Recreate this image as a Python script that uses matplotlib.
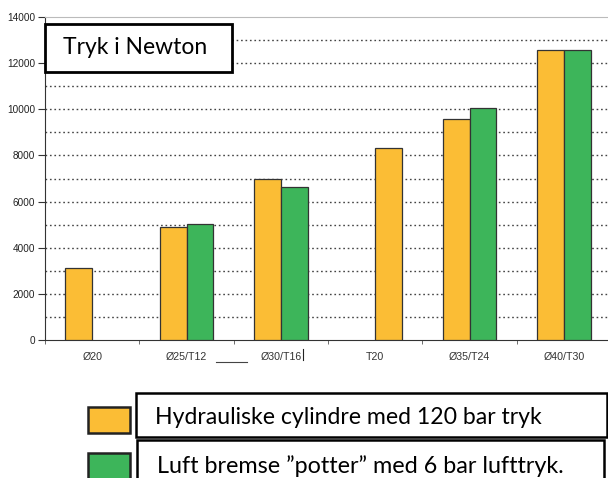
import numpy as np
import matplotlib
matplotlib.use("Agg")
import matplotlib.pyplot as plt
from matplotlib.patches import Rectangle

categories = ["Ø20", "Ø25/T12", "Ø30/T16", "T20", "Ø35/T24", "Ø40/T30"]
hydraulic = [3120, 4880, 7000, 8340, 9580, 12550]
air = [np.nan, 5020, 6650, np.nan, 10050, 12550]
# slot of the yellow bar inside each group (-1 left, +1 right)
hyd_slot = [-1, -1, -1, 1, -1, -1]

title_text = "Tryk i Newton"
legend_labels = ["Hydrauliske cylindre med 120 bar tryk",
                 "Luft bremse \u201dpotter\u201d med 6 bar lufttryk."]

yellow = "#FBBD35"
green = "#3DB55A"
W, H = 608, 478

fig = plt.figure(figsize=(W / 100, H / 100), dpi=100)
ax = fig.add_axes([45 / W, 138 / H, 566 / W, 323 / H])

x = np.arange(len(categories))
bw = 0.286
ax.bar(x + np.array(hyd_slot) * bw / 2, hydraulic, width=bw, color=yellow,
       edgecolor="#333333", linewidth=0.9, zorder=3)
ax.bar(x + bw / 2, air, width=bw, color=green,
       edgecolor="#333333", linewidth=0.9, zorder=3)

ax.set_xlim(-0.5, len(categories) - 0.5)
ax.set_ylim(0, 14000)
ax.set_yticks(np.arange(0, 14001, 2000))
for v in range(1000, 14000, 1000):
    ax.axhline(v, color="#444444", linestyle=(0, (1.2, 2.0)), linewidth=1.0, zorder=1)

ax.set_xticks(x)
ax.set_xticklabels(categories)
ax.set_xticks(np.arange(-0.5, len(categories), 1), minor=True)
ax.tick_params(axis="x", which="major", length=0, pad=9,
               labelsize=7.7, labelcolor="#333333")
ax.tick_params(axis="x", which="minor", length=3, color="#555555", direction="out")
ax.tick_params(axis="y", length=5, color="#333333", labelsize=7.2,
               labelcolor="#222222", pad=2)
for lbl in ax.get_xticklabels() + ax.get_yticklabels():
    lbl.set_fontfamily("Liberation Sans")

ax.spines["left"].set_color("#333333")
ax.spines["bottom"].set_color("#333333")
ax.spines["top"].set_color("#bbbbbb")
ax.spines["right"].set_visible(False)

# stray marks from the original screenshot
fig.add_artist(plt.Line2D([216 / W, 247 / W], [1 - 362 / H, 1 - 362 / H],
                          color="#444444", linewidth=0.8))
fig.add_artist(plt.Line2D([303 / W, 303 / W], [1 - 360 / H, 1 - 349 / H],
                          color="#222222", linewidth=0.8))

# title box
fig.add_artist(Rectangle((45 / W, 1 - 72 / H), 187 / W, 48 / H,
                         transform=fig.transFigure, facecolor="white",
                         edgecolor="black", linewidth=2, zorder=5))
fig.text(63 / W, 1 - 48 / H, title_text, fontsize=16.5, family="Lato",
         va="center", ha="left", zorder=6)

# legend
fig.add_artist(Rectangle((88 / W, 1 - 433 / H), 42 / W, 26 / H,
                         transform=fig.transFigure, facecolor=yellow,
                         edgecolor="#222222", linewidth=1.8))
fig.add_artist(Rectangle((88 / W, 1 - 480 / H), 42 / W, 27 / H,
                         transform=fig.transFigure, facecolor=green,
                         edgecolor="#222222", linewidth=1.8))
fig.add_artist(Rectangle((136 / W, 1 - 437 / H), 471 / W, 44 / H,
                         transform=fig.transFigure, facecolor="white",
                         edgecolor="black", linewidth=1.8))
fig.add_artist(Rectangle((137 / W, 1 - 485 / H), 467 / W, 45 / H,
                         transform=fig.transFigure, facecolor="white",
                         edgecolor="black", linewidth=1.8))
fig.text(155 / W, 1 - 417 / H, legend_labels[0], fontsize=16.6, family="Lato",
         va="center", ha="left")
fig.text(157 / W, 1 - 466 / H, legend_labels[1], fontsize=16.8, family="Lato",
         va="center", ha="left")

fig.savefig("out.png", dpi=100)
